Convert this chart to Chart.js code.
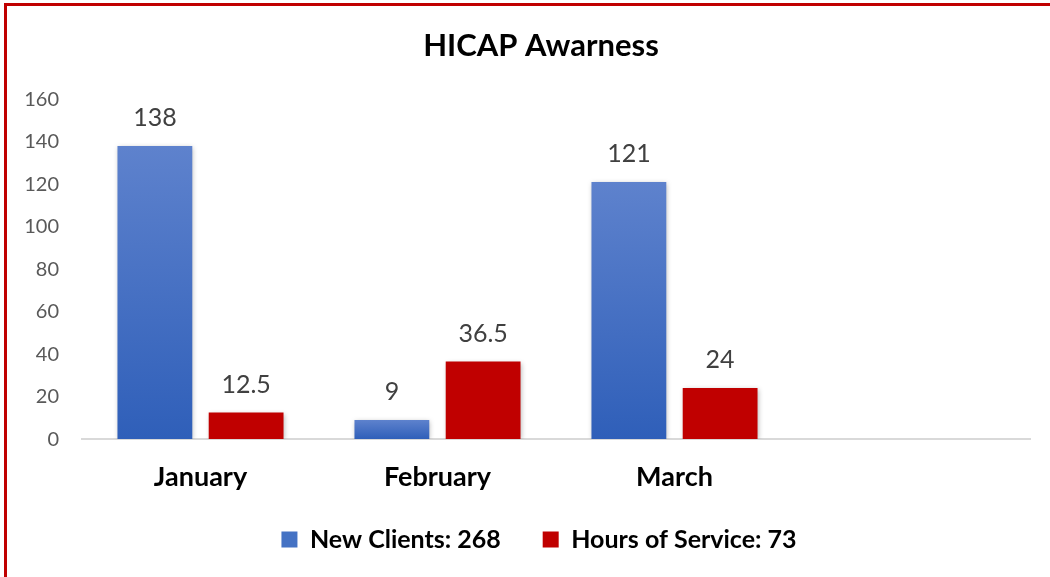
<!DOCTYPE html>
<html lang="en">
<head>
  <meta charset="utf-8"/>
  <title>HICAP Awarness</title>
  <script src="https://cdn.jsdelivr.net/npm/chart.js"></script>
  <style>
    html, body { margin: 0; padding: 0; background: #fff; }
    #wrap { position: relative; width: 1050px; height: 577px; overflow: hidden; }
    #frame { position: absolute; left: 4px; top: 3px; width: 1200px; height: 700px;
             border-top: 3px solid #C00000; border-left: 3px solid #C00000; pointer-events: none; }
  </style>
</head>
<body>
  <div id="wrap">
    <canvas id="chart" width="1050" height="577"></canvas>
    <div id="frame"></div>
  </div>
  <script>
    // data
    const months = ['January', 'February', 'March', ''];
    const newClients = [138, 9, 121, null];
    const hoursOfService = [12.5, 36.5, 24, null];
    const seriesNames = ['New Clients: 268', 'Hours of Service: 73'];
    const yTicks = [0, 20, 40, 60, 80, 100, 120, 140, 160];

    const FONT = 'Lato, "Open Sans", sans-serif';

    // per-bar blue gradient, light at top, darker at bottom
    function blueFill(ctx) {
      const chart = ctx.chart;
      const y = chart.scales.y;
      if (!y || ctx.parsed == null || ctx.parsed.y == null) return '#4472C4';
      const top = y.getPixelForValue(ctx.parsed.y);
      const bottom = y.getPixelForValue(0);
      if (!isFinite(top) || !isFinite(bottom) || top === bottom) return '#4472C4';
      const g = chart.ctx.createLinearGradient(0, top, 0, bottom);
      g.addColorStop(0, '#5E82CD');
      g.addColorStop(1, '#2F5FB9');
      return g;
    }

    // soft shadow under the bars
    const barShadow = {
      id: 'barShadow',
      beforeDatasetDraw(chart) {
        const c = chart.ctx;
        c.save();
        c.shadowColor = 'rgba(0,0,0,0.28)';
        c.shadowBlur = 5;
        c.shadowOffsetX = 1;
        c.shadowOffsetY = 1;
      },
      afterDatasetDraw(chart) {
        chart.ctx.restore();
      }
    };

    // title and legend sit a bit right of the canvas centre in the original
    const blockShift = {
      id: 'blockShift',
      afterLayout(chart) {
        if (chart.legend) {
          chart.legend.left += 24;
          chart.legend.right += 24;
        }
        if (chart.titleBlock) {
          chart.titleBlock.left += 26;
          chart.titleBlock.right += 26;
        }
      }
    };

    // value labels above each bar
    const valueLabels = {
      id: 'valueLabels',
      afterDatasetsDraw(chart) {
        const c = chart.ctx;
        c.save();
        c.font = '25px ' + FONT;
        c.fillStyle = '#404040';
        c.textAlign = 'center';
        c.textBaseline = 'middle';
        chart.data.datasets.forEach((ds, i) => {
          chart.getDatasetMeta(i).data.forEach((bar, j) => {
            const v = ds.data[j];
            if (v == null) return;
            c.fillText(String(v), bar.x, bar.y - 28);
          });
        });
        c.restore();
      }
    };

    new Chart(document.getElementById('chart'), {
      type: 'bar',
      data: {
        labels: months,
        datasets: [
          {
            label: seriesNames[0],
            data: newClients,
            backgroundColor: blueFill,
            categoryPercentage: 0.77,
            barPercentage: 0.82
          },
          {
            label: seriesNames[1],
            data: hoursOfService,
            backgroundColor: '#C00000',
            categoryPercentage: 0.77,
            barPercentage: 0.82
          }
        ]
      },
      options: {
        responsive: false,
        animation: false,
        layout: { padding: { left: 0, right: 20, top: 0, bottom: 15 } },
        plugins: {
          title: {
            display: true,
            text: 'HICAP Awarness',
            color: '#000',
            font: { family: FONT, size: 31, weight: 'bold' },
            padding: { top: 27, bottom: 35 }
          },
          legend: {
            position: 'bottom',
            labels: {
              color: '#000',
              font: { family: FONT, size: 25, weight: 'bold' },
              boxWidth: 16,
              boxHeight: 16,
              padding: 11.5,
              generateLabels(chart) {
                return chart.data.datasets.map((ds, i) => ({
                  // a little extra room after the first entry, as in the original
                  text: i === 0 ? ds.label + '     ' : ds.label,
                  fillStyle: i === 0 ? '#4472C4' : '#C00000',
                  strokeStyle: 'transparent',
                  lineWidth: 0,
                  datasetIndex: i,
                  hidden: false
                }));
              }
            }
          },
          tooltip: { enabled: false }
        },
        scales: {
          x: {
            grid: { display: false, drawTicks: false },
            border: { display: true, color: '#D9D9D9', width: 2 },
            ticks: {
              color: '#000',
              padding: 22,
              font: { family: FONT, size: 27, weight: 'bold' }
            }
          },
          y: {
            min: 0,
            max: 160,
            afterFit(scale) { scale.width = 82; },
            afterBuildTicks(scale) { scale.ticks = yTicks.map(v => ({ value: v })); },
            grid: { display: false, drawTicks: false },
            border: { display: false },
            ticks: {
              color: '#595959',
              padding: 23,
              font: { family: FONT, size: 20 }
            }
          }
        }
      },
      plugins: [barShadow, blockShift, valueLabels]
    });
  </script>
</body>
</html>
